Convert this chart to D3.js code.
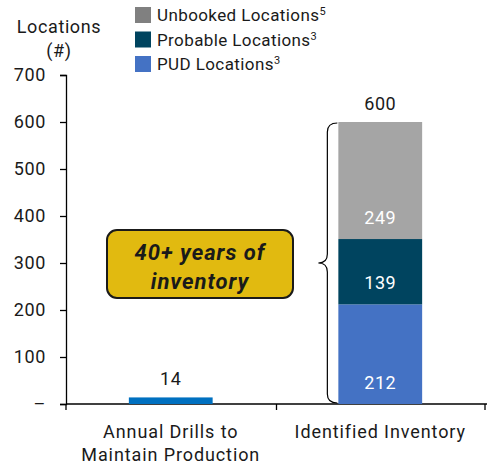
<!DOCTYPE html>
<html>
<head>
<meta charset="utf-8">
<script src="https://cdn.jsdelivr.net/npm/d3@7"></script>
<style>
  body { margin: 0; background: #fff; }
  svg text { font-family: Roboto, "Liberation Sans", sans-serif; fill: #1a1a1a; }
</style>
</head>
<body>
<svg id="chart" width="487" height="466"></svg>
<script>
// Chart data
var categories = ["Annual Drills to|Maintain Production", "Identified Inventory"];
var drills = [14, 0];
var pud = [0, 212];
var probable = [0, 139];
var unbooked = [0, 249];
var totals = [14, 600];
var yTicks = [0, 100, 200, 300, 400, 500, 600, 700];
var legendNames = ["Unbooked Locations", "Probable Locations", "PUD Locations"];
var legendSup = ["5", "3", "3"];

window.onload = function(){
   drawChart();
};

function drawChart() {
   var svg = d3.select("#chart");
   var x0 = 66, x1 = 487, yTop = 75, yBot = 404;

   var x = d3.scaleBand()
      .domain(categories)
      .range([x0, x1 - 2])
      .paddingInner(0.6)
      .paddingOuter(0.3);

   var y = d3.scaleLinear()
      .domain([0, 700])
      .range([yBot, yTop]);

   // y axis
   var yAxis = svg.append("g")
      .attr("transform", "translate(" + x0 + ",0)")
      .call(d3.axisLeft(y).tickValues(yTicks).tickSize(6).tickPadding(14)
         .tickFormat(function(d){ return d === 0 ? "–" : d; }));
   yAxis.select(".domain").attr("stroke", "#000").attr("stroke-width", 1.3);
   yAxis.selectAll(".tick line").attr("stroke", "#000").attr("stroke-width", 1.3);
   yAxis.selectAll(".tick text").style("font-size", "18px").style("letter-spacing", "0.6px")
      .attr("fill", "#1a1a1a");

   // x axis line + ticks at band boundaries
   svg.append("line")
      .attr("x1", x0).attr("x2", x1).attr("y1", yBot).attr("y2", yBot)
      .attr("stroke", "#000").attr("stroke-width", 1.3);
   [x0, x0 + (x1 - x0) / 2, x1 - 2].forEach(function(t){
      svg.append("line")
         .attr("x1", t).attr("x2", t).attr("y1", yBot).attr("y2", yBot + 6)
         .attr("stroke", "#000").attr("stroke-width", 1.3);
   });

   // category labels
   categories.forEach(function(c){
      var lines = c.split("|");
      var t = svg.append("text")
         .attr("x", x(c) + x.bandwidth() / 2)
         .attr("y", 438)
         .attr("text-anchor", "middle")
         .style("font-size", "18px")
         .style("letter-spacing", "0.9px");
      lines.forEach(function(l, i){
         t.append("tspan").attr("x", x(c) + x.bandwidth() / 2)
            .attr("dy", i === 0 ? 0 : 23).text(l);
      });
   });

   // stacked series
   var rows = categories.map(function(c, i){
      return {cat: c, drills: drills[i], pud: pud[i], probable: probable[i], unbooked: unbooked[i]};
   });
   var keys = ["drills", "pud", "probable", "unbooked"];
   var colors = {drills: "#0070C0", pud: "#4472C4", probable: "#00445F", unbooked: "#A5A5A5"};
   var stack = d3.stack().keys(keys)(rows);

   stack.forEach(function(layer){
      svg.append("g").selectAll("rect")
         .data(layer.filter(function(d){ return d[1] - d[0] > 0; }))
         .enter().append("rect")
            .attr("x", function(d){ return x(d.data.cat); })
            .attr("width", x.bandwidth())
            .attr("y", function(d){ return y(d[1]); })
            .attr("height", function(d){ return y(d[0]) - y(d[1]); })
            .attr("fill", colors[layer.key]);

      // labels inside segments of the inventory bar
      if (layer.key !== "drills") {
         svg.append("g").selectAll("text")
            .data(layer.filter(function(d){ return d[1] - d[0] > 0; }))
            .enter().append("text")
               .attr("x", function(d){ return x(d.data.cat) + x.bandwidth() / 2; })
               .attr("y", function(d){ return y(d[0]) - 15; })
               .attr("text-anchor", "middle")
               .style("font-size", "18px")
               .style("letter-spacing", "0.6px")
               .style("fill", "#fff")
               .text(function(d){ return d[1] - d[0]; });
      }
   });

   // totals above bars
   svg.append("g").selectAll("text")
      .data(categories)
      .enter().append("text")
         .attr("x", function(c){ return x(c) + x.bandwidth() / 2; })
         .attr("y", function(c, i){ return y(totals[i]) - 12; })
         .attr("text-anchor", "middle")
         .style("font-size", "18px")
         .style("letter-spacing", "0.6px")
         .text(function(c, i){ return totals[i]; });

   // brace next to inventory bar
   var bx = x(categories[1]) - 11, top = y(600) + 1, bot = y(0) - 1, mid = (top + bot) / 2, r = 9;
   svg.append("path")
      .attr("d", "M" + (bx + 10) + "," + top +
         " Q" + bx + "," + top + " " + bx + "," + (top + r) +
         " L" + bx + "," + (mid - r) +
         " Q" + bx + "," + mid + " " + (bx - 9) + "," + mid +
         " Q" + bx + "," + mid + " " + bx + "," + (mid + r) +
         " L" + bx + "," + (bot - r) +
         " Q" + bx + "," + bot + " " + (bx + 10) + "," + bot)
      .attr("fill", "none").attr("stroke", "#000").attr("stroke-width", 1.2);

   // callout box
   svg.append("rect")
      .attr("x", 107).attr("y", 230).attr("width", 186).attr("height", 68)
      .attr("rx", 10).attr("ry", 10)
      .attr("fill", "#E1BA10").attr("stroke", "#1a1a1a").attr("stroke-width", 2);
   var ct = svg.append("text")
      .attr("text-anchor", "middle")
      .style("font-size", "22px").style("font-weight", "bold").style("font-style", "italic")
      .style("letter-spacing", "1px");
   ct.append("tspan").attr("x", 200).attr("y", 260).text("40+ years of");
   ct.append("tspan").attr("x", 200).attr("y", 289).text("inventory");

   // y title
   var yt = svg.append("text").attr("text-anchor", "middle")
      .style("font-size", "18px").style("letter-spacing", "0.6px");
   yt.append("tspan").attr("x", 59).attr("y", 33).text("Locations");
   yt.append("tspan").attr("x", 59).attr("y", 57).text("(#)");

   // legend
   var legendColors = ["#808080", "#00445F", "#4472C4"];
   legendNames.forEach(function(n, i){
      var ly = 7 + i * 24.5;
      svg.append("rect").attr("x", 135).attr("y", ly).attr("width", 16).attr("height", 16)
         .attr("fill", legendColors[i]);
      var t = svg.append("text").attr("x", 157).attr("y", ly + 14)
         .style("font-size", "17px").style("letter-spacing", "0.4px");
      t.append("tspan").text(n);
      t.append("tspan").attr("dy", -6).style("font-size", "11px").text(legendSup[i]);
   });
}
</script>
</body>
</html>
